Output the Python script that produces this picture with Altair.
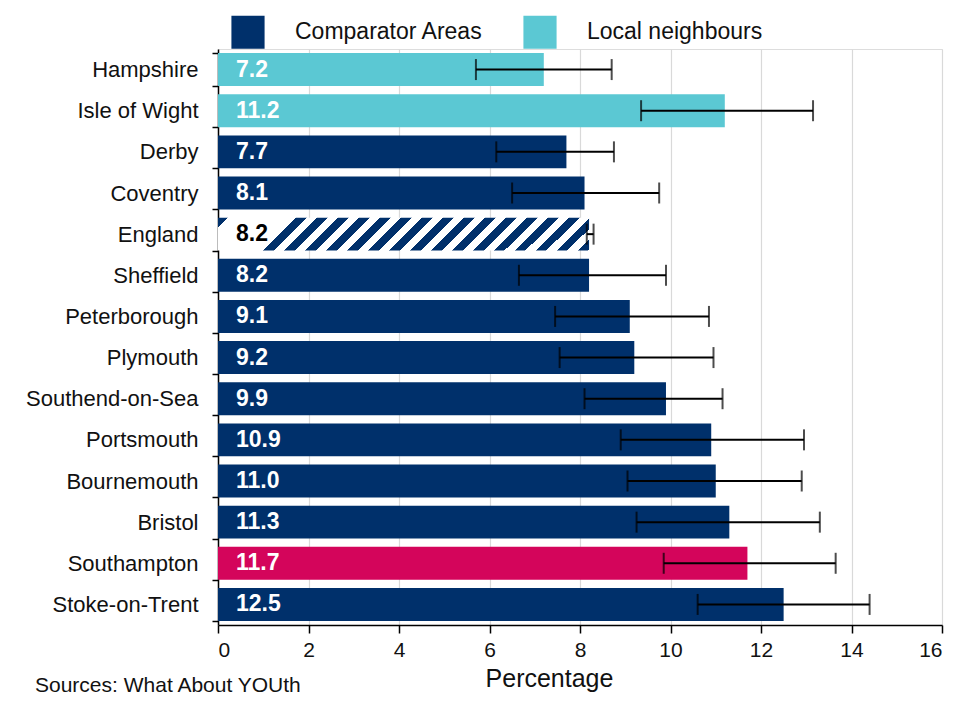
import altair as alt
import pandas as pd

categories = ["Hampshire", "Isle of Wight", "Derby", "Coventry", "England", "Sheffield",
              "Peterborough", "Plymouth", "Southend-on-Sea", "Portsmouth", "Bournemouth",
              "Bristol", "Southampton", "Stoke-on-Trent"]
values = [7.2, 11.2, 7.7, 8.1, 8.2, 8.2, 9.1, 9.2, 9.9, 10.9, 11.0, 11.3, 11.7, 12.5]
lower = [5.7, 9.35, 6.15, 6.5, 8.15, 6.65, 7.45, 7.55, 8.1, 8.9, 9.05, 9.25, 9.85, 10.6]
upper = [8.7, 13.15, 8.75, 9.75, 8.3, 9.9, 10.85, 10.95, 11.15, 12.95, 12.9, 13.3, 13.65, 14.4]
groups = ["Local neighbours", "Local neighbours", "Comparator Areas", "Comparator Areas",
          "England", "Comparator Areas", "Comparator Areas", "Comparator Areas",
          "Comparator Areas", "Comparator Areas", "Comparator Areas", "Comparator Areas",
          "Southampton", "Comparator Areas"]
x_ticks = [0, 2, 4, 6, 8, 10, 12, 14, 16]
legend_items = ["Comparator Areas", "Local neighbours"]

NAVY = "#00306b"
CYAN = "#5bc8d3"
PINK = "#d4055b"
FONT = "Liberation Sans"

df = pd.DataFrame({
    "area": categories,
    "value": values,
    "lo": lower,
    "hi": upper,
    "group": groups,
    "label": [f"{v:.1f}" for v in values],
})

# diagonal hatch fill for the England bar (with a clear gap behind its label)
gap_start, gap_end = 0.024, 0.19
stops = [alt.GradientStop(offset=0, color=NAVY), alt.GradientStop(offset=gap_start, color=NAVY),
         alt.GradientStop(offset=gap_start, color="white"), alt.GradientStop(offset=gap_end, color="white")]
period = 0.051
t = gap_end
while t + period / 2 <= 1.0:
    stops += [alt.GradientStop(offset=round(t, 4), color=NAVY),
              alt.GradientStop(offset=round(t + period / 2, 4), color=NAVY),
              alt.GradientStop(offset=round(t + period / 2, 4), color="white"),
              alt.GradientStop(offset=round(min(t + period, 1.0), 4), color="white")]
    t += period
hatch = alt.LinearGradient(gradient="linear", stops=stops, x1=0, y1=0, x2=1.1, y2=0.098)

y_enc = alt.Y("area:N", sort=categories, title=None,
              scale=alt.Scale(paddingInner=0.2, paddingOuter=0.1),
              axis=alt.Axis(tickBand="extent", labelFont=FONT, labelFontSize=22,
                            labelColor="#111111", labelPadding=14, tickSize=6,
                            tickColor="#000000", domainColor="#000000", domainWidth=1.5,
                            tickWidth=1.5))
x_scale = alt.Scale(domain=[0, 16], nice=False)
x_enc = alt.X("value:Q", scale=x_scale, title="Percentage",
              axis=alt.Axis(values=x_ticks, format="d", labelFont=FONT, labelFontSize=21,
                            labelColor="#111111", labelPadding=6, tickSize=8,
                            tickColor="#000000", tickWidth=1.5, domainColor="#000000",
                            domainWidth=1.5, grid=True, gridColor="#d9d9d9", gridWidth=1.2,
                            titleFont=FONT, titleFontSize=25, titleFontWeight="normal",
                            titleColor="#111111", titleX=331, titlePadding=6))

base = alt.Chart(df)

bars = base.transform_filter(alt.datum.area != "England").mark_bar().encode(
    y=y_enc,
    x=x_enc,
    color=alt.Color("group:N",
                    scale=alt.Scale(domain=["Comparator Areas", "Local neighbours", "Southampton"],
                                    range=[NAVY, CYAN, PINK]),
                    legend=alt.Legend(values=legend_items, orient="none", legendX=13,
                                      legendY=-34, direction="horizontal", title=None,
                                      symbolType="square", symbolSize=1100,
                                      symbolStrokeWidth=0, symbolOpacity=1,
                                      labelFont=FONT, labelFontSize=23, labelLimit=0,
                                      labelColor="#111111", labelOffset=30,
                                      columnPadding=40, padding=0)),
)

england = base.transform_filter(alt.datum.area == "England").mark_bar(fill=hatch).encode(
    y=alt.Y("area:N", sort=categories),
    x=alt.X("value:Q", scale=x_scale),
)

err = base.mark_rule(color="#000000", strokeWidth=2).encode(
    y=alt.Y("area:N", sort=categories),
    x=alt.X("lo:Q", scale=x_scale),
    x2="hi:Q",
)
cap_lo = base.mark_tick(color="#000000", thickness=2, size=21).encode(
    y=alt.Y("area:N", sort=categories),
    x=alt.X("lo:Q", scale=x_scale),
)
cap_hi = base.mark_tick(color="#000000", thickness=2, size=21).encode(
    y=alt.Y("area:N", sort=categories),
    x=alt.X("hi:Q", scale=x_scale),
)

labels = base.mark_text(align="left", baseline="middle", dx=18, font=FONT, fontSize=23,
                        fontWeight="bold").encode(
    y=alt.Y("area:N", sort=categories),
    x=alt.datum(0),
    text="label:N",
    color=alt.condition(alt.datum.area == "England", alt.value("#000000"), alt.value("#ffffff")),
)

source = alt.Chart(pd.DataFrame({"t": ["Sources: What About YOUth"]})).mark_text(
    align="left", baseline="middle", font=FONT, fontSize=21, color="#111111"
).encode(text="t:N", x=alt.value(-183), y=alt.value(637))

chart = alt.layer(bars, england, err, cap_lo, cap_hi, labels, source).properties(
    width=724, height=576,
    autosize=alt.AutoSizeParams(type="none"),
    padding={"left": 210, "top": 41, "right": 8, "bottom": 72},
).configure_view(strokeWidth=0).configure(background="white")

chart.save("out.html", embed_options={"renderer": "svg", "actions": False})
